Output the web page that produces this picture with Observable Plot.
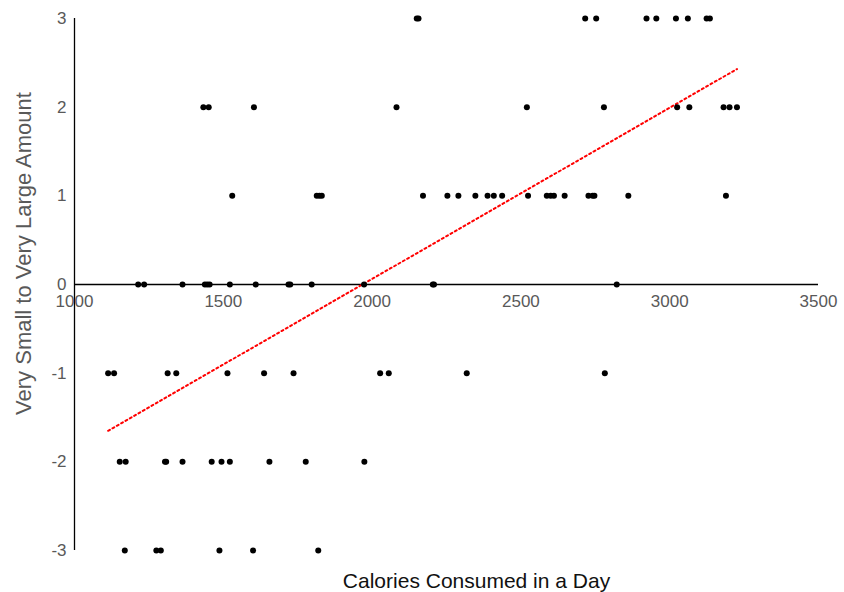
<!DOCTYPE html>
<html>
<head>
<meta charset="utf-8">
<script src="https://cdn.jsdelivr.net/npm/d3@7"></script>
<script src="https://cdn.jsdelivr.net/npm/@observablehq/plot@0.6"></script>
<style>
  html, body { margin: 0; padding: 0; background: #fff; }
  #chart { width: 844px; height: 592px; }
</style>
</head>
<body>
<div id="chart"></div>
<script>
// Data: calories (x) and rating level (y)
const calories3 = [2150, 2156, 2716, 2753, 2922, 2955, 3021, 3061, 3124, 3135];
const calories2 = [1433, 1451, 1603, 2082, 2520, 2779, 3025, 3066, 3181, 3201, 3226];
const calories1 = [1530, 1814, 1823, 1831, 2171, 2253, 2290, 2347, 2388, 2409, 2437, 2524, 2587, 2600, 2611, 2647, 2727, 2741, 2747, 2861, 3189];
const calories0 = [1214, 1234, 1363, 1438, 1446, 1454, 1522, 1609, 1719, 1725, 1797, 1973, 2204, 2208, 2822];
const caloriesM1 = [1113, 1133, 1313, 1342, 1514, 1637, 1736, 2027, 2056, 2318, 2782];
const caloriesM2 = [1152, 1172, 1304, 1308, 1363, 1461, 1494, 1522, 1655, 1777, 1974];
const caloriesM3 = [1169, 1275, 1290, 1487, 1600, 1819];
const levels = [3, 2, 1, 0, -1, -2, -3];

const trendX = [1113, 3226];
const trendY = [-1.65, 2.43];

const xTicks = [1000, 1500, 2000, 2500, 3000, 3500];
const yTicks = [-3, -2, -1, 0, 1, 2, 3];

const xTitle = "Calories Consumed in a Day";
const yTitle = "Very Small to Very Large Amount";

const groups = [calories3, calories2, calories1, calories0, caloriesM1, caloriesM2, caloriesM3];
const points = [];
groups.forEach((arr, i) => arr.forEach(c => points.push({x: c, y: levels[i]})));
const trend = trendX.map((x, i) => ({x, y: trendY[i]}));

const gray = "#595959";

const chart = Plot.plot({
  width: 844,
  height: 592,
  marginLeft: 74,
  marginRight: 26,
  marginTop: 18,
  marginBottom: 42,
  style: {fontFamily: "'Liberation Sans', Arial, sans-serif", background: "#fff", overflow: "visible"},
  x: {domain: [1000, 3500], axis: null},
  y: {domain: [-3, 3], axis: null},
  marks: [
    Plot.ruleY([0], {x1: 1000, x2: 3500, stroke: "#000", strokeWidth: 1.3}),
    Plot.ruleX([1000], {y1: -3, y2: 3, stroke: "#000", strokeWidth: 1.3}),
    Plot.text(xTicks, {x: d => d, y: 0, dy: 17, text: d => String(d), fill: gray, fontSize: 17, textAnchor: "middle"}),
    Plot.text(yTicks, {x: 1000, y: d => d, dx: -8, text: d => String(d), fill: gray, fontSize: 17, textAnchor: "end"}),
    Plot.line(trend, {x: "x", y: "y", stroke: "#ff0000", strokeWidth: 2, strokeDasharray: "2,3"}),
    Plot.dot(points, {x: "x", y: "y", r: 3, fill: "#000", stroke: "none"}),
    Plot.text([xTitle], {frameAnchor: "bottom", text: d => d, dx: 30, dy: 37, fontSize: 21, fill: "#111"}),
    Plot.text([yTitle], {frameAnchor: "left", textAnchor: "middle", text: d => d, rotate: -90, dx: -51, dy: -31, fontSize: 22, fill: gray})
  ]
});
document.getElementById("chart").appendChild(chart);
</script>
</body>
</html>
